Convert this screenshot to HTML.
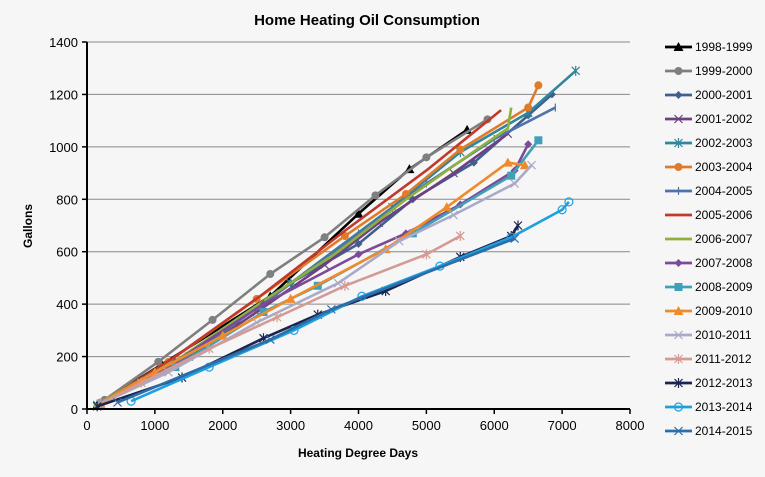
<!DOCTYPE html>
<html><head><meta charset="utf-8"><style>
body{margin:0;background:#f7f6f6;}
svg{display:block;font-family:"Liberation Sans",Calibri,sans-serif;}
</style></head><body>
<svg id="chart" width="765" height="477" viewBox="0 0 765 477">
<rect width="765" height="477" fill="#f7f6f6"/>
<text x="367" y="25" text-anchor="middle" font-size="15" font-weight="bold" fill="#000">Home Heating Oil Consumption</text>
<text transform="translate(32,226) rotate(-90)" text-anchor="middle" font-size="12" font-weight="bold">Gallons</text>
<text x="358" y="457" text-anchor="middle" font-size="12" font-weight="bold">Heating Degree Days</text>
<g id="grid"></g><g id="series"></g><g id="axes"></g><g id="legend"></g>
</svg>
<script>
const xTicks=[0,1000,2000,3000,4000,5000,6000,7000,8000];
const yTicks=[0,200,400,600,800,1000,1200,1400];
const seriesNames=["1998-1999","1999-2000","2000-2001","2001-2002","2002-2003","2003-2004","2004-2005","2005-2006","2006-2007","2007-2008","2008-2009","2009-2010","2010-2011","2011-2012","2012-2013","2013-2014","2014-2015"];
const s1998=[[150,15],[1100,170],[2700,430],[4000,745],[4750,915],[5600,1065]];
const s1999=[[260,35],[1050,180],[1850,340],[2700,515],[3500,655],[4250,815],[5000,960],[5900,1105]];
const s2000=[[200,20],[1200,150],[2200,330],[3000,480],[4000,630],[4800,800],[5700,940],[6500,1120],[6850,1200]];
const s2001=[[200,20],[1300,160],[2500,370],[3500,550],[4300,710],[5400,900],[6200,1050]];
const s2002=[[150,15],[1500,200],[3000,480],[4500,770],[5500,980],[6500,1130],[7200,1290]];
const s2003=[[200,25],[1200,180],[2500,420],[3800,660],[4700,820],[5500,990],[6500,1150],[6650,1235]];
const s2004=[[200,20],[1400,190],[2800,440],[4000,670],[5000,860],[6000,1030],[6900,1150]];
const s2005=[[200,20],[1300,200],[2600,440],[3800,680],[5000,910],[6100,1140]];
const s2006=[[100,10],[1400,200],[2700,430],[3700,600],[4700,800],[5800,1000],[6200,1070],[6250,1150]];
const s2007=[[200,20],[1300,180],[2600,400],[4000,590],[4700,670],[5500,780],[6300,910],[6500,1010]];
const s2008=[[200,20],[1300,160],[2600,370],[3400,470],[4800,670],[6250,890],[6650,1025]];
const s2009=[[200,20],[1000,140],[2000,280],[3000,420],[4400,610],[5300,770],[6200,940],[6450,930]];
const s2010=[[200,20],[1200,140],[2500,330],[3700,480],[4600,640],[5400,740],[6300,860],[6550,930]];
const s2011=[[200,20],[800,100],[1800,230],[2800,350],[3800,470],[5000,590],[5500,660]];
const s2012=[[150,10],[1400,120],[2600,270],[3400,360],[4400,450],[5500,580],[6250,660],[6350,700]];
const s2013=[[650,30],[1800,160],[3050,300],[4050,430],[5200,545],[6250,655],[7000,760],[7100,790]];
const s2014=[[450,25],[2700,265],[3600,380],[6300,650]];
const seriesData=[s1998,s1999,s2000,s2001,s2002,s2003,s2004,s2005,s2006,s2007,s2008,s2009,s2010,s2011,s2012,s2013,s2014];
const colors=["#000000","#7f7f7f","#3f5f8f","#6f3f7f","#31859c","#e07b2a","#4f72a8","#c0392b","#8db03f","#7c4a98","#3fa0b8","#f08a2a","#a8aac8","#d49a94","#1a2550","#1ea0e0","#2d6da8"];
const markers=["tri","circle","diamond","x","star","circle","plus","none","none","diamond","square","tri","x","star","star","ocircle","x"];
const NS="http://www.w3.org/2000/svg";
const X0=87,X1=630,Y0=409,Y1=42;
const xs=v=>X0+v/8000*(X1-X0);
const ys=v=>Y0-v/1400*(Y0-Y1);
function mk(t,a){const e=document.createElementNS(NS,t);for(const k in a)e.setAttribute(k,a[k]);return e;}
const grid=document.getElementById('grid'),axes=document.getElementById('axes'),ser=document.getElementById('series'),leg=document.getElementById('legend');
yTicks.forEach(v=>{
 if(v>0){const l=mk('line',{x1:X0,x2:X1,y1:ys(v),y2:ys(v),stroke:'#888','stroke-width':1});
 
 grid.appendChild(l);}
 const t=mk('text',{x:X0-9,y:ys(v)+5,'text-anchor':'end','font-size':13});t.textContent=v;
 
 axes.appendChild(t);
 axes.appendChild(mk('line',{x1:X0-5,x2:X0,y1:ys(v),y2:ys(v),stroke:'#000','stroke-width':1.5}));
});
xTicks.forEach(v=>{
 const t=mk('text',{x:xs(v),y:Y0+21,'text-anchor':'middle','font-size':13});t.textContent=v;
 
 axes.appendChild(t);
 axes.appendChild(mk('line',{x1:xs(v),x2:xs(v),y1:Y0,y2:Y0+5,stroke:'#000','stroke-width':1.5}));
});
axes.appendChild(mk('line',{x1:X0,x2:X0,y1:Y1,y2:Y0,stroke:'#000','stroke-width':2}));
axes.appendChild(mk('line',{x1:X0,x2:X1,y1:Y0,y2:Y0,stroke:'#000','stroke-width':2}));
function marker(g,type,x,y,c,s){
 s=s||4;let e=null;
 if(type==='tri')e=mk('polygon',{points:`${x},${y-s-1} ${x-s-1},${y+s} ${x+s+1},${y+s}`,fill:c});
 else if(type==='circle')e=mk('circle',{cx:x,cy:y,r:s,fill:c});
 else if(type==='ocircle')e=mk('circle',{cx:x,cy:y,r:s,fill:'none',stroke:c,'stroke-width':1.2});
 else if(type==='diamond')e=mk('polygon',{points:`${x},${y-s} ${x+s},${y} ${x},${y+s} ${x-s},${y}`,fill:c});
 else if(type==='square')e=mk('rect',{x:x-s,y:y-s,width:2*s,height:2*s,fill:c});
 else if(type==='x')e=mk('path',{d:`M${x-s},${y-s}L${x+s},${y+s}M${x-s},${y+s}L${x+s},${y-s}`,stroke:c,'stroke-width':1.2});
 else if(type==='plus')e=mk('path',{d:`M${x},${y-s}L${x},${y+s}`,stroke:c,'stroke-width':1.2});
 else if(type==='star')e=mk('path',{d:`M${x-s},${y-s}L${x+s},${y+s}M${x-s},${y+s}L${x+s},${y-s}M${x},${y-s-1}L${x},${y+s+1}`,stroke:c,'stroke-width':1.2});
 if(e){
 g.appendChild(e);}
}
seriesData.forEach((d,i)=>{
 const g=mk('g',{});
 
 
 const p=mk('polyline',{points:d.map(q=>xs(q[0])+','+ys(q[1])).join(' '),fill:'none',stroke:colors[i],'stroke-width':2.6,'stroke-linejoin':'round'});
 
 
 g.appendChild(p);
 d.forEach(q=>marker(g,markers[i],xs(q[0]),ys(q[1]),colors[i]));
 ser.appendChild(g);
 const ly=47+i*24;
 const lg=mk('g',{});
 
 
 lg.appendChild(mk('line',{x1:665,x2:692,y1:ly,y2:ly,stroke:colors[i],'stroke-width':2.8}));
 marker(lg,markers[i],678.5,ly,colors[i]);
 const t=mk('text',{x:695,y:ly+4,'font-size':12});t.textContent=seriesNames[i];
 lg.appendChild(t);leg.appendChild(lg);
});
</script>
</body></html>
